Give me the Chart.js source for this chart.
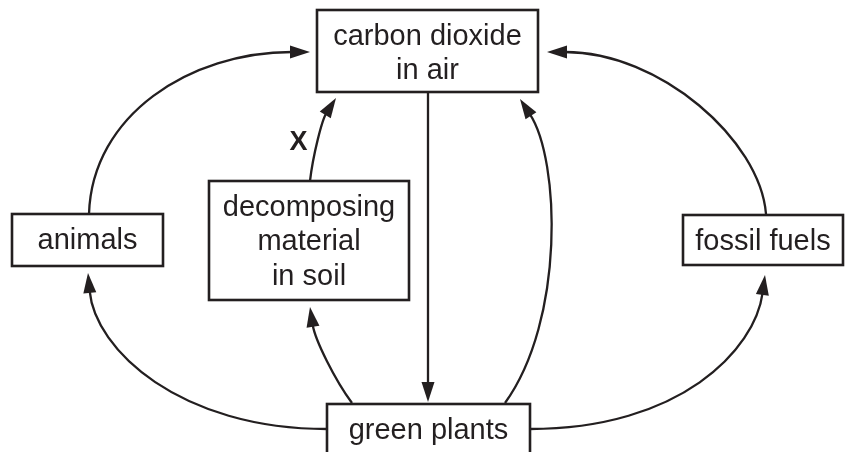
<!DOCTYPE html>
<html>
<head>
<meta charset="utf-8">
<title>Carbon cycle</title>
<script src="https://cdn.jsdelivr.net/npm/chart.js@4"></script>
<style>
    html, body { margin: 0; padding: 0; background: #fff; }
    #diagram { display: block; }
</style>
</head>
<body>
<canvas id="diagram" width="845" height="452"></canvas>
<script>
// Diagram data (in diagram units, 0..845 across, 0..452 down)
const nodeNames = [
    ['carbon dioxide', 'in air'],
    ['animals'],
    ['decomposing', 'material', 'in soil'],
    ['fossil fuels'],
    ['green plants']
];
const nodeLeft = [317, 12, 209, 683, 327];
const nodeTop = [10, 214, 181, 215, 404];
const nodeRight = [538, 163, 409, 843, 530];
const nodeBottom = [92, 266, 300, 265, 470];

// Each arrow: start, control 1, control 2, tip
const arrowPaths = [
    [[89, 214], [92, 115], [190, 52], [310, 52]],     // animals -> CO2
    [[766, 214], [760, 140], [660, 52], [547, 52]],   // fossil fuels -> CO2
    [[310, 181], [313, 155], [322, 120], [336, 98]],  // decomposing -> CO2 (X)
    [[428, 92], [428, 200], [428, 300], [428, 402]],  // CO2 -> green plants
    [[505, 403], [565, 320], [560, 160], [520, 99]],  // green plants -> CO2
    [[327, 429], [180, 429], [95, 350], [88, 273]],   // green plants -> animals
    [[352, 403], [335, 380], [315, 340], [310, 307]], // green plants -> decomposing
    [[530, 429], [680, 429], [755, 350], [765, 275]]  // green plants -> fossil fuels
];

const labelText = ['X'];
const labelX = [298.5];
const labelY = [150];

const ink = '#231f20';

const diagramPlugin = {
    id: 'diagram',
    afterDatasetsDraw(chart) {
        const ctx = chart.ctx;
        const xs = chart.scales.x;
        const ys = chart.scales.y;
        const px = v => xs.getPixelForValue(v);
        const py = v => ys.getPixelForValue(v);

        ctx.save();
        ctx.strokeStyle = ink;
        ctx.fillStyle = ink;

        // Arrows
        ctx.lineWidth = 2.3;
        arrowPaths.forEach(p => {
            const pts = p.map(([x, y]) => [px(x), py(y)]);
            const [s, c1, c2, e] = pts;
            const ang = Math.atan2(e[1] - c2[1], e[0] - c2[0]);
            const len = 20, half = 6.5;
            // stop the line at the arrowhead base
            const bx = e[0] - Math.cos(ang) * (len - 2);
            const by = e[1] - Math.sin(ang) * (len - 2);
            ctx.beginPath();
            ctx.moveTo(s[0], s[1]);
            ctx.bezierCurveTo(c1[0], c1[1], c2[0], c2[1], bx, by);
            ctx.stroke();

            const baseX = e[0] - Math.cos(ang) * len;
            const baseY = e[1] - Math.sin(ang) * len;
            ctx.beginPath();
            ctx.moveTo(e[0], e[1]);
            ctx.lineTo(baseX + Math.sin(ang) * half, baseY - Math.cos(ang) * half);
            ctx.lineTo(baseX - Math.sin(ang) * half, baseY + Math.cos(ang) * half);
            ctx.closePath();
            ctx.fill();
        });

        // Boxes and their text
        ctx.lineWidth = 2.6;
        ctx.font = '29px "Liberation Sans", Arial, sans-serif';
        ctx.textAlign = 'center';
        ctx.textBaseline = 'alphabetic';
        nodeNames.forEach((lines, i) => {
            const l = px(nodeLeft[i]), r = px(nodeRight[i]);
            const t = py(nodeTop[i]), b = py(nodeBottom[i]);
            ctx.fillStyle = '#fff';
            ctx.fillRect(l, t, r - l, b - t);
            ctx.strokeRect(l, t, r - l, b - t);
            ctx.fillStyle = ink;
            const cx = (l + r) / 2;
            lines.forEach((txt, k) => {
                ctx.fillText(txt, cx, t + 34.5 + k * 34.5);
            });
        });

        // Arrow label
        ctx.font = 'bold 27px "Liberation Sans", Arial, sans-serif';
        labelText.forEach((txt, i) => {
            ctx.fillText(txt, px(labelX[i]), py(labelY[i]));
        });

        ctx.restore();
    }
};

new Chart(document.getElementById('diagram'), {
    type: 'scatter',
    data: {
        datasets: [{
            data: nodeNames.map((n, i) => ({
                x: (nodeLeft[i] + nodeRight[i]) / 2,
                y: (nodeTop[i] + nodeBottom[i]) / 2
            })),
            pointRadius: 0
        }]
    },
    options: {
        responsive: false,
        animation: false,
        devicePixelRatio: 1,
        layout: { padding: 0 },
        scales: {
            x: { type: 'linear', min: 0, max: 845, display: false },
            y: { type: 'linear', min: 0, max: 452, reverse: true, display: false }
        },
        plugins: {
            legend: { display: false },
            tooltip: { enabled: false }
        }
    },
    plugins: [diagramPlugin]
});
</script>
</body>
</html>
